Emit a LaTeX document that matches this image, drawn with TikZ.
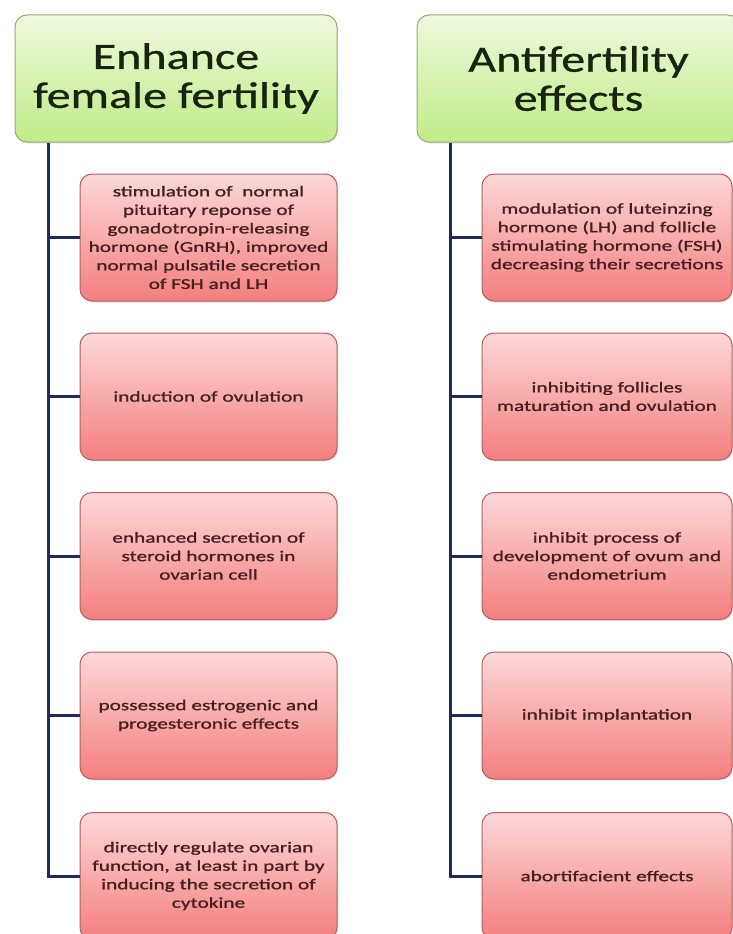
\documentclass[tikz,border=0pt]{standalone}
\usepackage{fontspec}
\setmainfont{Carlito}
\newfontfamily\hdrfont[FakeStretch=1.3,FakeBold=0.8]{Carlito}
\newfontfamily\boxfont[FakeStretch=1.42,FakeBold=1.2]{Carlito}
\usetikzlibrary{shadows}
\definecolor{hdrtop}{HTML}{EEF9DC}
\definecolor{hdrbot}{HTML}{C0EC88}
\definecolor{hdrline}{HTML}{93AD72}
\definecolor{hdrtext}{HTML}{18240F}
\definecolor{boxtop}{HTML}{FDD8D8}
\definecolor{boxbot}{HTML}{F47E7E}
\definecolor{boxline}{HTML}{B0605E}
\definecolor{boxtext}{HTML}{442020}
\definecolor{spine}{HTML}{1F2B5C}
\tikzset{
  hdrbox/.style={draw=hdrline, line width=1pt, rounded corners=12pt,
    top color=hdrtop, bottom color=hdrbot, minimum width=322pt, minimum height=127pt,
    align=center, text=hdrtext, inner sep=0pt,
    font=\hdrfont\fontsize{37}{39}\selectfont,
    drop shadow={opacity=0.2, shadow xshift=1pt, shadow yshift=-1.5pt}},
  itembox/.style={draw=boxline, line width=1pt, rounded corners=12pt,
    top color=boxtop, bottom color=boxbot, minimum height=127pt,
    align=center, text=boxtext, inner sep=0pt,
    font=\boxfont\fontsize{15}{18.5}\selectfont,
    drop shadow={opacity=0.2, shadow xshift=1pt, shadow yshift=-1.5pt}},
  leftbox/.style={itembox, minimum width=257pt},
  rightbox/.style={itembox, minimum width=250pt},
  conn/.style={draw=spine, line width=3pt}
}
\begin{document}
\begin{tikzpicture}[x=1pt,y=-1pt]
\useasboundingbox (0,0) rectangle (733,934);
\clip (0,0) rectangle (733,934);
\fill[white] (0,0) rectangle (733,934);

% headers
\node[hdrbox] (hL) at (176,78.5) {Enhance\\female fertility};
\node[hdrbox, minimum width=323pt] (hR) at (578.5,78.5) {Antifertility\\effects};

% left boxes
\node[leftbox] (l1) at (208.5,237.5) {stimulation of\ \ normal\\pituitary reponse of\\gonadotropin-releasing\\hormone (GnRH), improved\\normal pulsatile secretion\\of FSH and LH};
\node[leftbox] (l2) at (208.5,396.5) {induction of ovulation};
\node[leftbox] (l3) at (208.5,556) {enhanced secretion of\\steroid hormones in\\ovarian cell};
\node[leftbox] (l4) at (208.5,715.5) {possessed estrogenic and\\progesteronic effects};
\node[leftbox] (l5) at (208.5,876) {directly regulate ovarian\\function, at least in part by\\inducing the secretion of\\cytokine};

% right boxes
\node[rightbox] (r1) at (607,237.5) {modulation of luteinzing\\hormone (LH) and follicle\\stimulating hormone (FSH)\\decreasing their secretions};
\node[rightbox] (r2) at (607,396.5) {inhibiting follicles\\maturation and ovulation};
\node[rightbox] (r3) at (607,556) {inhibit process of\\development of ovum and\\endometrium};
\node[rightbox] (r4) at (607,715.5) {inhibit implantation};
\node[rightbox] (r5) at (607,876) {abortifacient effects};

% spines
\coordinate (sL) at (48,0);
\coordinate (sR) at (450,0);
\draw[conn] (hL.south -| sL) |- (l5.west);
\foreach \b in {l1,l2,l3,l4}{\draw[conn] (sL |- \b.west) -- (\b.west);}
\draw[conn] (hR.south -| sR) |- (r5.west);
\foreach \b in {r1,r2,r3,r4}{\draw[conn] (sR |- \b.west) -- (\b.west);}
\end{tikzpicture}
\end{document}
